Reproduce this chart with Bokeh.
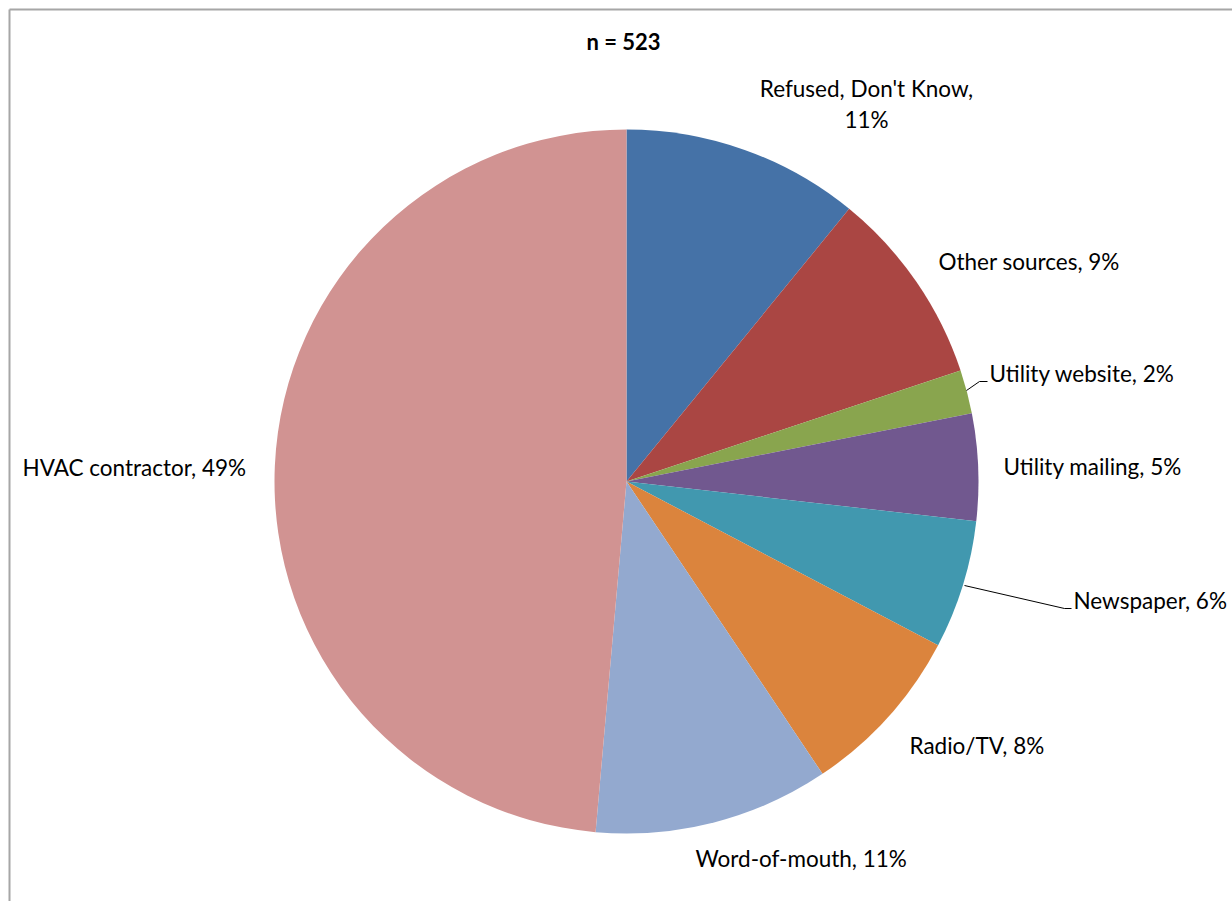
import numpy as np
from bokeh.plotting import figure
from bokeh.models import Range1d, ColumnDataSource
from bokeh.core.properties import value
from bokeh.embed import file_html
from bokeh.resources import INLINE

# ---- data (clockwise from 12 o'clock) ----
categories = ["Refused, Don't Know", "Other sources", "Utility website", "Utility mailing",
              "Newspaper", "Radio/TV", "Word-of-mouth", "HVAC contractor"]
shares = [10.9, 9.0, 2.0, 4.9, 5.9, 7.9, 10.8, 48.6]
pct_labels = ["11%", "9%", "2%", "5%", "6%", "8%", "11%", "49%"]
colors = ["#4572A7", "#AA4643", "#89A54E", "#71588F", "#4198AF", "#DB843D", "#93A9CF", "#D19392"]
title_text = "n = 523"

# ---- layout (screen px) ----
W, H = 1232, 901
CX, CY, R = 626, 481, 352
FONT = "Lato"
FS = "22.5px"

p = figure(width=W, height=H, output_backend="svg", toolbar_location=None,
           x_range=Range1d(-CX, W - CX), y_range=Range1d(CY - H, CY),
           min_border=0, outline_line_color=None, background_fill_color="white",
           border_fill_color="white")
p.axis.visible = False
p.grid.visible = False

vals = np.array(shares, dtype=float)
frac = vals / vals.sum()
cum = np.concatenate([[0], np.cumsum(frac)])
start = np.pi / 2 - 2 * np.pi * cum[:-1]
end = np.pi / 2 - 2 * np.pi * cum[1:]
src = ColumnDataSource(dict(start=start, end=end, color=colors))
p.wedge(x=0, y=0, radius=R, start_angle="start", end_angle="end", direction="clock",
        fill_color="color", line_color=None, source=src)

def sx(x):
    return x - CX

def sy(y):
    return CY - y

# frame lines
p.segment(x0=[sx(9), sx(9)], y0=[sy(9), sy(9)], x1=[sx(W + 5), sx(9)], y1=[sy(9), sy(H + 5)],
          line_color="#A6A6A6", line_width=2)

# title
p.text(x=[sx(623)], y=[sy(41)], text=[title_text], text_font=value(FONT), text_font_size="22px",
       text_font_style="bold", text_align="center", text_baseline="middle", text_color="black")

# label layout: list of (x, y, align) per text line
label_pos = [[(866, 88, "center"), (866, 119, "center")], [(938, 261, "left")], [(989, 373, "left")],
             [(1003, 466, "left")], [(1073, 600, "left")], [(909, 745, "left")],
             [(695, 858, "left")], [(22, 467, "left")]]
for i, (c, pl) in enumerate(zip(categories, pct_labels)):
    lines = [c + ",", pl] if i == 0 else [c + ", " + pl]
    for t, (lx, ly, al) in zip(lines, label_pos[i]):
        p.text(x=[sx(lx)], y=[sy(ly)], text=[t], text_font=value(FONT), text_font_size=FS,
               text_align=al, text_baseline="middle", text_color="black")

# leader lines
p.line(x=[sx(966), sx(979), sx(987)], y=[sy(390), sy(381), sy(381)], line_color="black", line_width=1)
p.line(x=[sx(964), sx(1064), sx(1071)], y=[sy(585), sy(608), sy(608)], line_color="black", line_width=1)

open("out.html", "w").write(file_html(p, INLINE))
